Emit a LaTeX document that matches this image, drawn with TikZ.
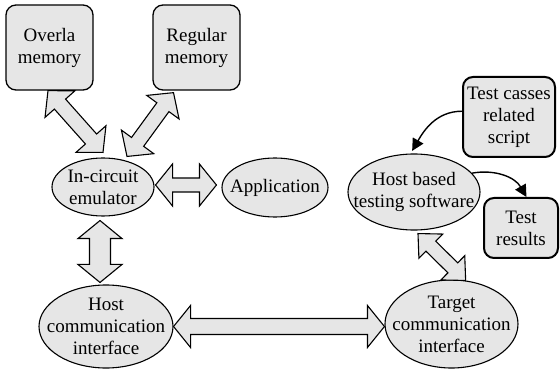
\documentclass[tikz,border=0pt]{standalone}
\usepackage{fontspec}
\setmainfont{Liberation Serif}
\usetikzlibrary{shapes.geometric,calc,arrows.meta}
\definecolor{boxgray}{RGB}{230,230,230}
% #1 from, #2 to, #3 shaft half width, #4 head half width, #5 head length
\newcommand{\fatdbl}[5]{%
  \coordinate (faA) at (#1);
  \coordinate (faB) at (#2);
  \coordinate (fa1) at ($(faA)!#5!(faB)$);
  \coordinate (fa2) at ($(faB)!#5!(faA)$);
  \draw[fatarrow] (faA) -- ($(fa1)!#4!90:(faB)$) -- ($(fa1)!#3!90:(faB)$)
    -- ($(fa2)!#3!-90:(faA)$) -- ($(fa2)!#4!-90:(faA)$) -- (faB)
    -- ($(fa2)!#4!90:(faA)$) -- ($(fa2)!#3!90:(faA)$)
    -- ($(fa1)!#3!-90:(faB)$) -- ($(fa1)!#4!-90:(faB)$) -- cycle;
}
\begin{document}
\begin{tikzpicture}[x=1pt,y=1pt,
  every node/.style={font=\fontsize{19}{22}\selectfont, align=center},
  rbox/.style={draw, line width=1.3pt, rounded corners=10pt, fill=boxgray, inner sep=0pt},
  tbox/.style={rbox, line width=2pt},
  bub/.style={draw, ellipse, line width=1.1pt, fill=boxgray, inner sep=0pt},
  txt/.style={inner sep=0pt},
  fatarrow/.style={draw, line width=1.1pt, fill=boxgray, line join=miter},
  curved/.style={line width=1.4pt, -{Triangle[length=12pt,width=12pt]}}
]
\useasboundingbox (0,0) rectangle (560,370);

\node[rbox, minimum width=87pt, minimum height=85pt] (ov) at (49.5,322.5) {Overla\\memory};
\node[rbox, minimum width=87pt, minimum height=85pt] (reg) at (196.5,322.5) {Regular\\memory};
\node[tbox, minimum width=92pt, minimum height=80pt] (tc) at (509,253) {Test casses\\related\\script};
\node[tbox, minimum width=74pt, minimum height=60pt] (tr) at (521,142) {Test\\results};

\node[bub, minimum width=102pt, minimum height=58pt] (emu) at (103,183) {};
\node[txt] (emut) at (emu.center) {In-circuit\\emulator};
\node[bub, minimum width=106pt, minimum height=59pt] (app) at (275,182.5) {};
\node[txt] (appt) at (app.center) {Application};
\node[bub, minimum width=132pt, minimum height=76pt] (hbt) at (414,178) {};
\node[txt] (hbtt) at (hbt.center) {Host based\\testing software};
\node[bub, minimum width=134pt, minimum height=83pt] (hci) at (106,43.5) {};
\node[txt] (hcit) at (hci.center) {Host\\communication\\interface};
\node[bub, minimum width=133pt, minimum height=88pt] (tci) at (451.5,46) {};
\node[txt] (tcit) at (tci.center) {Target\\communication\\interface};

\fatdbl{$(ov.south)+(-1.5,0)$}{$(emu.north)+(0,5)$}{7.5pt}{20pt}{18pt}
\fatdbl{$(reg.south)+(-23,-2)$}{$(emu.north)+(24,1)$}{7.5pt}{20pt}{18pt}
\fatdbl{$(emu.east)+(1,2)$}{$(app.west)+(-5,2.5)$}{7pt}{21pt}{17pt}
\fatdbl{$(emu.south)+(-3,-4)$}{$(hci.north)+(-6,2)$}{10.5pt}{22pt}{18pt}
\fatdbl{hci.east}{hci.east -| tci.west}{8pt}{21pt}{17pt}
\fatdbl{$(hbt.south)+(4,-3)$}{tci.72}{7pt}{17pt}{18pt}

\draw[curved, shorten >=3pt] (tc.173) to[out=180,in=60] (hbt.95);
\draw[curved] (hbt.18) to[out=10,in=120] (tr.80);
\end{tikzpicture}
\end{document}
